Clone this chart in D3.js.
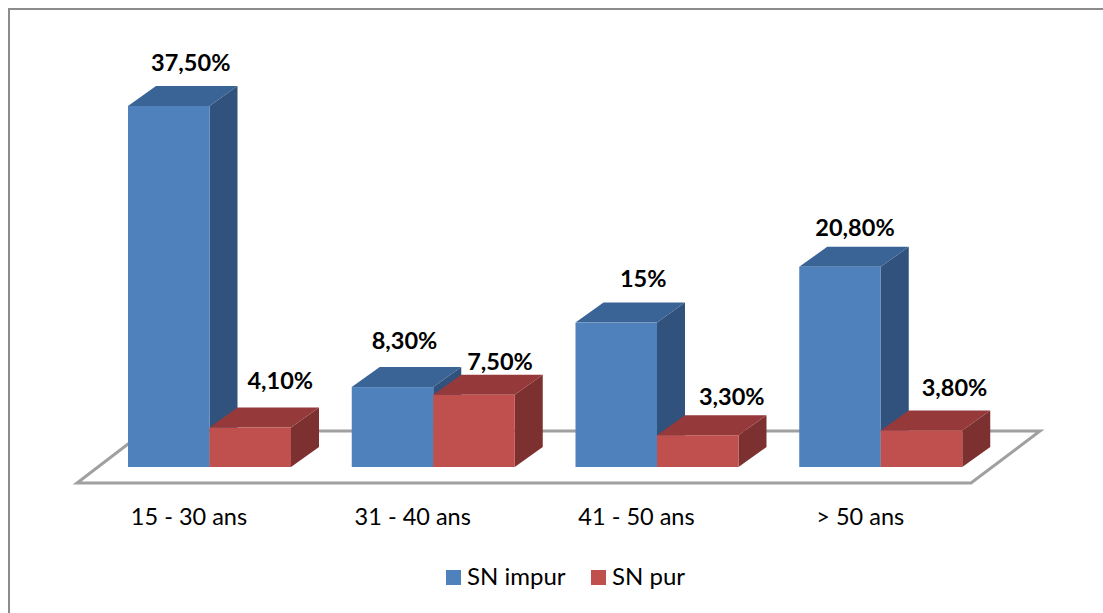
<!DOCTYPE html>
<html>
<head>
<meta charset="utf-8">
<script src="https://cdn.jsdelivr.net/npm/d3@7"></script>
<style>
  html, body { margin: 0; padding: 0; background: #fff; }
  text { font-family: Lato, "Open Sans", sans-serif; fill: #000; }
</style>
</head>
<body>
<svg id="chart" width="1103" height="613" style="display:block"></svg>
<script>
const categories = ["15 - 30 ans", "31 - 40 ans", "41 - 50 ans", "> 50 ans"];
const seriesNames = ["SN impur", "SN pur"];
const impur = [37.5, 8.3, 15, 20.8];
const pur = [4.1, 7.5, 3.3, 3.8];
const impurLabels = ["37,50%", "8,30%", "15%", "20,80%"];
const purLabels = ["4,10%", "7,50%", "3,30%", "3,80%"];
const palette = [
  { front: "#4f81bd", top: "#3a6496", side: "#30527c" },
  { front: "#c0504d", top: "#96393a", side: "#7c3030" }
];

// Manual label placement relative to the centre of each bar's top edge
const impurLabelShift = [[22, -35], [12, -38], [27, -36], [15, -31]];
const purLabelShift = [[30, -39], [26, -25], [34, -30], [33, -34]];

const svg = d3.select("#chart");

// Outer chart frame
svg.append("rect")
  .attr("x", 9).attr("y", 9).attr("width", 1120).attr("height", 640)
  .attr("fill", "#fff").attr("stroke", "#8c8c8c").attr("stroke-width", 2);

// Scales: four equal category bands, two adjoining bars inside each
const x = d3.scaleBand().domain(categories).range([104, 999]).paddingInner(0);
const y = d3.scaleLinear().domain([0, 37.5]).range([467, 106]);
const series = d3.scaleBand().domain(seriesNames).range([24, 187]);

// Oblique projection of the bar depth
const depthX = 28, depthY = 20;

// Floor plate
svg.append("path")
  .attr("d", "M77,483 L971,483 L1040,431 L145,431 Z")
  .attr("fill", "#fff").attr("stroke", "#a0a0a0").attr("stroke-width", 3)
  .attr("stroke-linejoin", "miter");

// Bars: each has a front face, a top face and a right side face
const rows = categories.flatMap((c, i) => [
  { c, s: 0, v: impur[i], label: impurLabels[i], shift: impurLabelShift[i] },
  { c, s: 1, v: pur[i], label: purLabels[i], shift: purLabelShift[i] }
]);

const bars = svg.append("g").selectAll("g").data(rows).join("g");

bars.each(function (d) {
  const g = d3.select(this);
  const x0 = x(d.c) + series(seriesNames[d.s]);
  const x1 = x0 + series.bandwidth();
  const yT = y(d.v), yB = y(0);
  const col = palette[d.s];
  g.append("path")
    .attr("d", `M${x1},${yT} L${x1 + depthX},${yT - depthY} L${x1 + depthX},${yB - depthY} L${x1},${yB} Z`)
    .attr("fill", col.side);
  g.append("path")
    .attr("d", `M${x0},${yT} L${x0 + depthX},${yT - depthY} L${x1 + depthX},${yT - depthY} L${x1},${yT} Z`)
    .attr("fill", col.top);
  g.append("rect")
    .attr("x", x0).attr("y", yT)
    .attr("width", x1 - x0).attr("height", yB - yT)
    .attr("fill", col.front);
});

// Value labels above the bars
svg.append("g").selectAll("text").data(rows).join("text")
  .attr("x", d => x(d.c) + series(seriesNames[d.s]) + series.bandwidth() / 2 + d.shift[0])
  .attr("y", d => y(d.v) + d.shift[1])
  .attr("text-anchor", "middle")
  .attr("font-size", 23.5).attr("font-weight", 700)
  .text(d => d.label);

// Category labels under the floor
svg.append("g").selectAll("text").data(categories).join("text")
  .attr("x", c => x(c) + 85)
  .attr("y", 525)
  .attr("text-anchor", "middle")
  .attr("font-size", 23.5)
  .text(c => c);

// Legend
const legend = svg.append("g");
const legendX = [446, 591];
seriesNames.forEach((name, i) => {
  legend.append("rect")
    .attr("x", legendX[i]).attr("y", 570)
    .attr("width", 15).attr("height", 15)
    .attr("fill", palette[i].front);
  legend.append("text")
    .attr("x", legendX[i] + 21).attr("y", 585)
    .attr("font-size", 24)
    .text(name);
});
</script>
</body>
</html>
